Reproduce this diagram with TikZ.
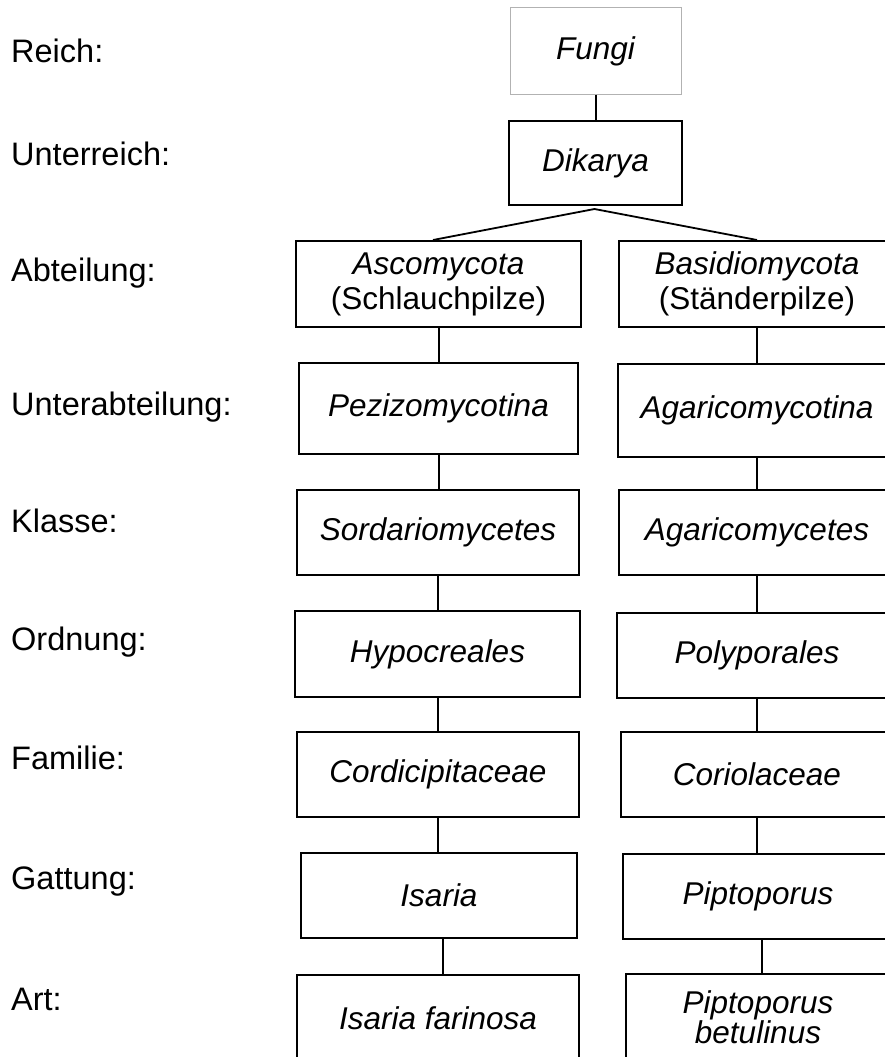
\documentclass[tikz,border=0pt]{standalone}
\usepackage{fontspec}
\setmainfont{Liberation Sans}
\begin{document}
\begin{tikzpicture}[x=1pt,y=-1pt,
  box/.style={draw=black, line width=2pt, inner sep=0pt, align=center,
    font=\fontsize{31.5}{35}\selectfont},
  lbl/.style={anchor=base west, inner sep=0pt, font=\fontsize{32.5}{36}\selectfont},
  link/.style={line width=2pt}]
\useasboundingbox (0,0) rectangle (885,1057);
\clip (0,0) rectangle (885,1057);

% rank labels
\node[lbl] (lreich) at (11,63) {Reich:};
\node[lbl] (lunterreich) at (11,165) {Unterreich:};
\node[lbl] (labteilung) at (11,281) {Abteilung:};
\node[lbl] (lunterabt) at (11,415) {Unterabteilung:};
\node[lbl] (lklasse) at (11,532) {Klasse:};
\node[lbl] (lordnung) at (11,650) {Ordnung:};
\node[lbl] (lfamilie) at (11,769) {Familie:};
\node[lbl] (lgattung) at (11,889) {Gattung:};
\node[lbl] (lart) at (11,1010) {Art:};

% top
\node[box, draw=gray!60, line width=1pt, minimum width=171pt, minimum height=86pt] (fungi) at (595.5,51) {\itshape Fungi};
\node[box, minimum width=173pt, minimum height=84pt] (dik) at (595.5,163) {\itshape Dikarya};

% left column
\node[box, minimum width=285pt, minimum height=86pt] (asc) at (438.5,284) {\textit{Ascomycota}\\(Schlauchpilze)};
\node[box, minimum width=279pt, minimum height=91pt] (pez) at (438.5,408.5) {\itshape Pezizomycotina};
\node[box, minimum width=282pt, minimum height=85pt] (sor) at (438,532.5) {\itshape Sordariomycetes};
\node[box, minimum width=285pt, minimum height=86pt] (hyp) at (437.5,654) {\itshape Hypocreales};
\node[box, minimum width=282pt, minimum height=85pt] (cor) at (438,774.5) {\itshape Cordicipitaceae};
\node[box, minimum width=276pt, minimum height=85pt] (isa) at (439,895.5) {\itshape Isaria};
\node[box, minimum width=282pt, minimum height=86pt] (isf) at (438,1018) {\itshape Isaria farinosa};

% right column
\node[box, minimum width=276pt, minimum height=86pt] (bas) at (757,284) {\textit{Basidiomycota}\\(Ständerpilze)};
\node[box, minimum width=278pt, minimum height=93pt] (aga1) at (757,410.5) {\itshape Agaricomycotina};
\node[box, minimum width=276pt, minimum height=85pt] (aga2) at (757,532) {\itshape Agaricomycetes};
\node[box, minimum width=280pt, minimum height=85pt] (pol) at (757,655.5) {\itshape Polyporales};
\node[box, minimum width=272pt, minimum height=85pt] (cori) at (757,774.5) {\itshape Coriolaceae};
\node[box, minimum width=270pt, minimum height=85pt] (pip) at (758,896.5) {\itshape Piptoporus};
\node[box, minimum width=264pt, minimum height=86pt, font=\fontsize{31.5}{25}\selectfont] (pipb) at (758,1017) {\textit{Piptoporus}\\\textit{betulinus}};

% connectors
\draw[link] (fungi.south) -- (fungi.south |- dik.north);
\coordinate (apex) at ([yshift=-3pt,xshift=-1pt]dik.south);
\draw[link, line width=1.8pt] ([xshift=-5.5pt]asc.north) -- (apex) -- (bas.north);

\draw[link] (asc.south) -- (asc.south |- pez.north);
\draw[link] (pez.south) -- (pez.south |- sor.north);
\draw[link] (sor.south) -- (sor.south |- hyp.north);
\draw[link] (hyp.south) -- (hyp.south |- cor.north);
\draw[link] (cor.south) -- (cor.south |- isa.north);
\draw[link] ([xshift=4pt]isa.south) -- ([xshift=4pt]isa.south |- isf.north);

\draw[link] (bas.south) -- (bas.south |- aga1.north);
\draw[link] (aga1.south) -- (aga1.south |- aga2.north);
\draw[link] (aga2.south) -- (aga2.south |- pol.north);
\draw[link] (pol.south) -- (pol.south |- cori.north);
\draw[link] (cori.south) -- (cori.south |- pip.north);
\draw[link] ([xshift=4pt]pip.south) -- ([xshift=4pt]pip.south |- pipb.north);
\end{tikzpicture}
\end{document}
